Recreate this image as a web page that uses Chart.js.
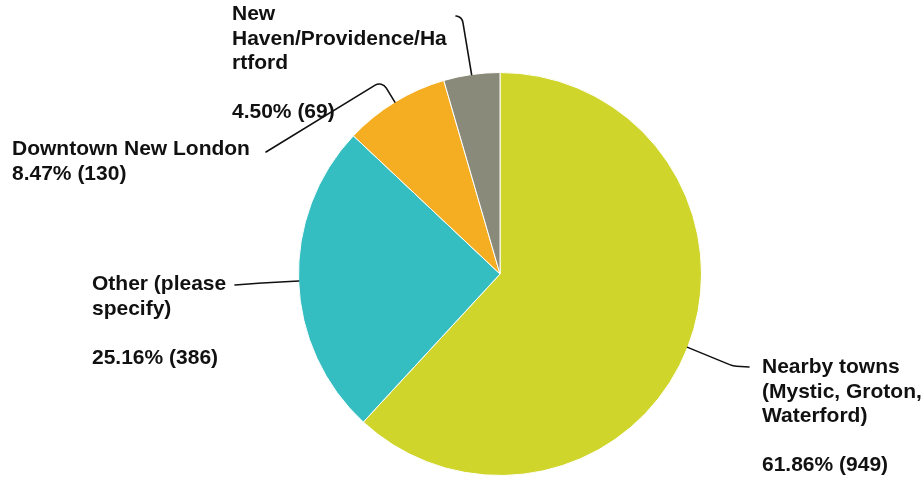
<!DOCTYPE html>
<html>
<head>
<meta charset="utf-8">
<script src="https://cdn.jsdelivr.net/npm/chart.js@4"></script>
<style>
  html, body { margin: 0; padding: 0; background: #fff; }
  #wrap { width: 923px; height: 481px; position: relative; }
</style>
</head>
<body>
<div id="wrap"><canvas id="myChart"></canvas></div>
<script>
const categories = [
  "Nearby towns (Mystic, Groton, Waterford)",
  "Other (please specify)",
  "Downtown New London",
  "New Haven/Providence/Hartford"
];
const counts = [949, 386, 130, 69];
const percents = ["61.86%", "25.16%", "8.47%", "4.50%"];
const colors = ['#CFD52A', '#35BEC1', '#F5AE21', '#8A8A7A'];

// how each label is broken into lines on the picture ('' = blank line)
const labelLines = [
  ["Nearby towns", "(Mystic, Groton,", "Waterford)", ""],
  ["Other (please", "specify)", ""],
  ["Downtown New London"],
  ["New", "Haven/Providence/Ha", "rtford", ""]
];

// text position (x, first baseline) and leader line: start point, corners, corner radius
const labelLayout = [
  { x: 762, y: 373, line: [[749, 367], [733, 366]], r: 22 },
  { x: 92, y: 290, line: [[235, 285], [262, 283]], r: 30 },
  { x: 12, y: 155, line: [[266, 152], [382, 81]], r: 8 },
  { x: 232, y: 20, line: [[456, 16], [462, 17]], r: 8 }
];

const leaderLabels = {
  id: 'leaderLabels',
  afterDatasetsDraw(chart) {
    const c = chart.ctx;
    const arcs = chart.getDatasetMeta(0).data;
    c.save();
    arcs.forEach((arc, i) => {
      const p = arc.getProps(['x', 'y', 'startAngle', 'endAngle', 'outerRadius'], true);
      const mid = (p.startAngle + p.endAngle) / 2;
      const ex = p.x + Math.cos(mid) * p.outerRadius;
      const ey = p.y + Math.sin(mid) * p.outerRadius;
      const L = labelLayout[i];
      const pts = L.line.concat([[ex, ey]]);
      c.strokeStyle = '#111';
      c.lineWidth = 1.6;
      c.lineCap = 'round';
      c.beginPath();
      c.moveTo(pts[0][0], pts[0][1]);
      for (let k = 1; k < pts.length - 1; k++) {
        c.arcTo(pts[k][0], pts[k][1], pts[k + 1][0], pts[k + 1][1], L.r);
      }
      c.lineTo(ex, ey);
      c.stroke();

      c.fillStyle = '#111';
      c.font = 'bold 21px "Liberation Sans", Arial, sans-serif';
      c.textBaseline = 'alphabetic';
      c.textAlign = 'left';
      const lines = labelLines[i].concat([percents[i] + ' (' + counts[i] + ')']);
      lines.forEach((t, k) => {
        c.fillText(t, L.x, L.y + k * 24.6);
      });
    });
    c.restore();
  }
};

new Chart(document.getElementById('myChart'), {
  type: 'pie',
  data: {
    labels: categories,
    datasets: [{
      data: counts,
      backgroundColor: colors,
      borderColor: '#ffffff',
      borderWidth: 1
    }]
  },
  options: {
    responsive: true,
    maintainAspectRatio: false,
    animation: false,
    layout: {
      padding: { top: 72, bottom: 5, left: 298, right: 221 }
    },
    plugins: {
      legend: { display: false },
      tooltip: { enabled: false }
    }
  },
  plugins: [leaderLabels]
});
</script>
</body>
</html>
